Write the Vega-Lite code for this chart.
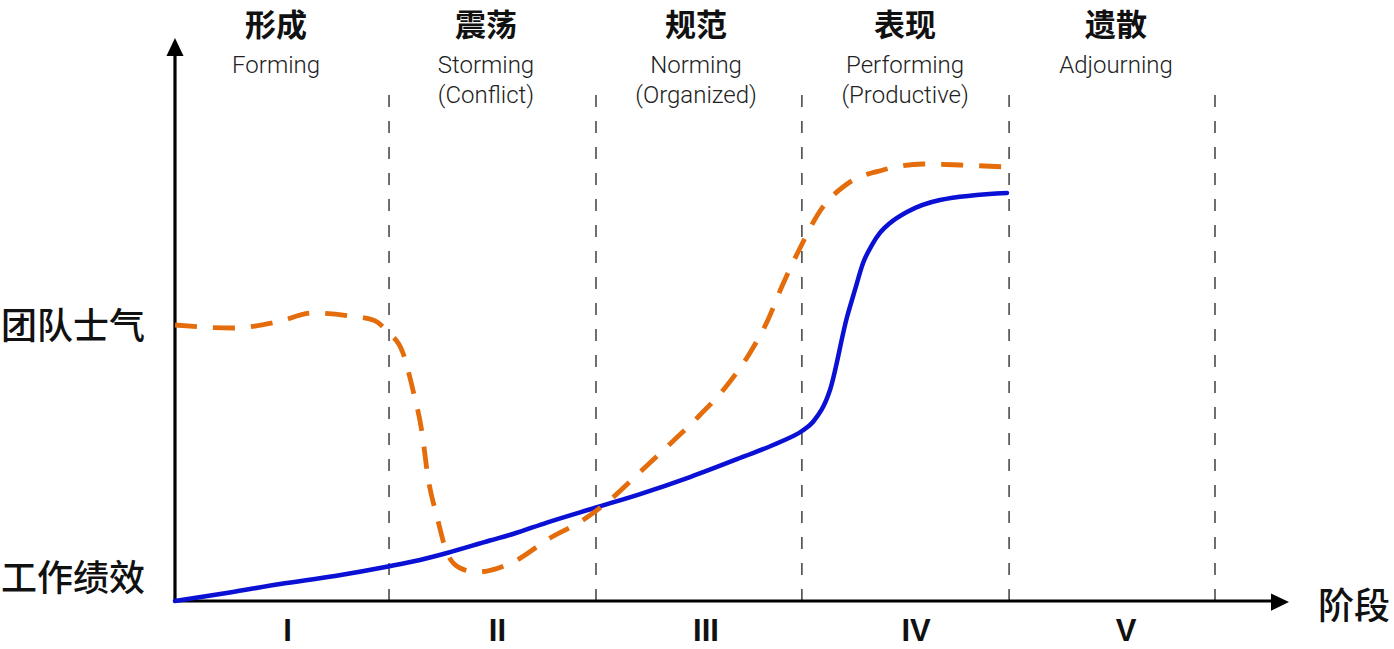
{
  "$schema": "https://vega.github.io/schema/vega-lite/v6.json",
  "width": 1394,
  "height": 649,
  "padding": 0,
  "autosize": {"type": "none"},
  "background": "white",
  "config": {"view": {"stroke": null}},
  "datasets": {
    "blue": [
      {"x": 0, "y": 0}, {"x": 0.264, "y": 1.52}, {"x": 0.505, "y": 3.03}, {"x": 0.769, "y": 4.46},
      {"x": 1.024, "y": 6.15}, {"x": 1.178, "y": 7.31}, {"x": 1.308, "y": 8.56}, {"x": 1.514, "y": 10.78},
      {"x": 1.625, "y": 11.94}, {"x": 1.788, "y": 13.99}, {"x": 2.024, "y": 16.67}, {"x": 2.236, "y": 19.07},
      {"x": 2.476, "y": 22.1}, {"x": 2.716, "y": 25.49}, {"x": 2.909, "y": 28.34}, {"x": 3.014, "y": 30.3},
      {"x": 3.067, "y": 31.91}, {"x": 3.149, "y": 37.61}, {"x": 3.231, "y": 50.62}, {"x": 3.269, "y": 55.44},
      {"x": 3.308, "y": 60.25}, {"x": 3.351, "y": 63.48}, {"x": 3.389, "y": 65.6}, {"x": 3.438, "y": 67.38},
      {"x": 3.519, "y": 69.34}, {"x": 3.678, "y": 71.48}, {"x": 4.0, "y": 72.73}
    ],
    "orange": [
      {"x": 0, "y": 49.2}, {"x": 0.279, "y": 48.66}, {"x": 0.49, "y": 49.73}, {"x": 0.663, "y": 51.34},
      {"x": 0.841, "y": 50.8}, {"x": 0.952, "y": 50.09}, {"x": 1.024, "y": 47.95}, {"x": 1.096, "y": 44.21},
      {"x": 1.144, "y": 37.61}, {"x": 1.188, "y": 29.95}, {"x": 1.216, "y": 22.1}, {"x": 1.26, "y": 14.97},
      {"x": 1.308, "y": 8.56}, {"x": 1.37, "y": 5.88}, {"x": 1.452, "y": 5.17}, {"x": 1.625, "y": 6.95},
      {"x": 1.803, "y": 11.23}, {"x": 1.962, "y": 14.44}, {"x": 2.091, "y": 18.0}, {"x": 2.236, "y": 22.99},
      {"x": 2.38, "y": 27.99}, {"x": 2.524, "y": 33.16}, {"x": 2.644, "y": 37.97}, {"x": 2.764, "y": 44.21},
      {"x": 2.846, "y": 49.73}, {"x": 2.923, "y": 56.51}, {"x": 3.005, "y": 62.92}, {"x": 3.101, "y": 69.52},
      {"x": 3.231, "y": 74.33}, {"x": 3.404, "y": 76.83}, {"x": 3.596, "y": 77.9}, {"x": 3.774, "y": 77.72},
      {"x": 4.0, "y": 77.36}
    ],
    "bounds": [{"x": 1.029}, {"x": 2.024}, {"x": 3.014}, {"x": 4.01}, {"x": 5.0}],
    "titles": [
      {"x": 0.486, "label": "形成"}, {"x": 1.495, "label": "震荡"}, {"x": 2.505, "label": "规范"},
      {"x": 3.51, "label": "表现"}, {"x": 4.524, "label": "遗散"}
    ],
    "sub1": [
      {"x": 0.486, "label": "Forming"}, {"x": 1.495, "label": "Storming"}, {"x": 2.505, "label": "Norming"},
      {"x": 3.51, "label": "Performing"}, {"x": 4.524, "label": "Adjourning"}
    ],
    "sub2": [
      {"x": 1.495, "label": "(Conflict)"}, {"x": 2.505, "label": "(Organized)"}, {"x": 3.51, "label": "(Productive)"}
    ],
    "roman": [
      {"x": 0.541, "label": "I"}, {"x": 1.55, "label": "II"}, {"x": 2.553, "label": "III"},
      {"x": 3.563, "label": "IV"}, {"x": 4.572, "label": "V"}
    ],
    "ylabels": [
      {"x": -0.837, "y": 48.66, "label": "团队士气"}, {"x": -0.837, "y": 3.74, "label": "工作绩效"}
    ],
    "xlabel": [{"x": 5.495, "y": -1.2, "label": "阶段"}]
  },
  "layer": [
    {
      "data": {"name": "bounds"},
      "mark": {"type": "rule", "stroke": "#222222", "strokeWidth": 1.3, "strokeDash": [12, 14]},
      "encoding": {
        "x": {"field": "x", "type": "quantitative", "scale": {"domain": [-0.8413, 5.8606], "nice": false, "zero": false}, "axis": null},
        "y": {"datum": 0, "type": "quantitative", "scale": {"domain": [-8.556, 107.13], "nice": false, "zero": false}, "axis": null},
        "y2": {"datum": 91.1}
      }
    },
    {
      "data": {"values": [{}]},
      "mark": {"type": "rule", "stroke": "black", "strokeWidth": 3.2},
      "encoding": {
        "x": {"datum": 0, "type": "quantitative"},
        "y": {"datum": -0.28, "type": "quantitative"},
        "y2": {"datum": 97.2}
      }
    },
    {
      "data": {"values": [{}]},
      "mark": {"type": "rule", "stroke": "black", "strokeWidth": 3.2},
      "encoding": {
        "x": {"datum": -0.007, "type": "quantitative"},
        "x2": {"datum": 5.28},
        "y": {"datum": 0, "type": "quantitative"}
      }
    },
    {
      "data": {"values": [{}]},
      "mark": {"type": "point", "shape": "M0,-1L0.95,1L-0.95,1Z", "size": 324, "filled": true, "fill": "black", "strokeWidth": 0, "opacity": 1},
      "encoding": {
        "x": {"datum": 0, "type": "quantitative"},
        "y": {"datum": 98.75, "type": "quantitative"}
      }
    },
    {
      "data": {"values": [{}]},
      "mark": {"type": "point", "shape": "M1,0L-1,-0.95L-1,0.95Z", "size": 324, "filled": true, "fill": "black", "strokeWidth": 0, "opacity": 1},
      "encoding": {
        "x": {"datum": 5.3125, "type": "quantitative"},
        "y": {"datum": -0.2, "type": "quantitative"}
      }
    },
    {
      "data": {"name": "blue"},
      "mark": {"type": "line", "stroke": "#0A10D4", "strokeWidth": 4.5, "interpolate": "monotone", "strokeCap": "round"},
      "encoding": {
        "x": {"field": "x", "type": "quantitative"},
        "y": {"field": "y", "type": "quantitative"}
      }
    },
    {
      "data": {"name": "orange"},
      "mark": {"type": "line", "stroke": "#E46C0A", "strokeWidth": 4.8, "interpolate": "monotone", "strokeDash": [22, 16]},
      "encoding": {
        "x": {"field": "x", "type": "quantitative"},
        "y": {"field": "y", "type": "quantitative"}
      }
    },
    {
      "data": {"name": "titles"},
      "mark": {"type": "text", "font": "Noto Sans CJK SC", "fontSize": 31, "fontWeight": "bold", "fill": "#111111", "align": "center", "baseline": "middle"},
      "encoding": {
        "x": {"field": "x", "type": "quantitative"},
        "y": {"datum": 102.4, "type": "quantitative"},
        "text": {"field": "label"}
      }
    },
    {
      "data": {"name": "sub1"},
      "mark": {"type": "text", "font": "Roboto", "fontSize": 24, "fontWeight": 300, "fill": "#222222", "align": "center", "baseline": "middle"},
      "encoding": {
        "x": {"field": "x", "type": "quantitative"},
        "y": {"datum": 95.28, "type": "quantitative"},
        "text": {"field": "label"}
      }
    },
    {
      "data": {"name": "sub2"},
      "mark": {"type": "text", "font": "Roboto", "fontSize": 24, "fontWeight": 300, "fill": "#222222", "align": "center", "baseline": "middle"},
      "encoding": {
        "x": {"field": "x", "type": "quantitative"},
        "y": {"datum": 89.93, "type": "quantitative"},
        "text": {"field": "label"}
      }
    },
    {
      "data": {"name": "roman"},
      "mark": {"type": "text", "font": "Liberation Sans", "fontSize": 31, "fontWeight": "bold", "fill": "#111111", "align": "center", "baseline": "middle"},
      "encoding": {
        "x": {"field": "x", "type": "quantitative"},
        "y": {"datum": -5.53, "type": "quantitative"},
        "text": {"field": "label"}
      }
    },
    {
      "data": {"name": "ylabels"},
      "mark": {"type": "text", "font": "Noto Sans CJK SC", "fontSize": 36, "fontWeight": 500, "fill": "#111111", "align": "left", "baseline": "middle"},
      "encoding": {
        "x": {"field": "x", "type": "quantitative"},
        "y": {"field": "y", "type": "quantitative"},
        "text": {"field": "label"}
      }
    },
    {
      "data": {"name": "xlabel"},
      "mark": {"type": "text", "font": "Noto Sans CJK SC", "fontSize": 36, "fontWeight": 500, "fill": "#111111", "align": "left", "baseline": "middle"},
      "encoding": {
        "x": {"field": "x", "type": "quantitative"},
        "y": {"field": "y", "type": "quantitative"},
        "text": {"field": "label"}
      }
    }
  ]
}
